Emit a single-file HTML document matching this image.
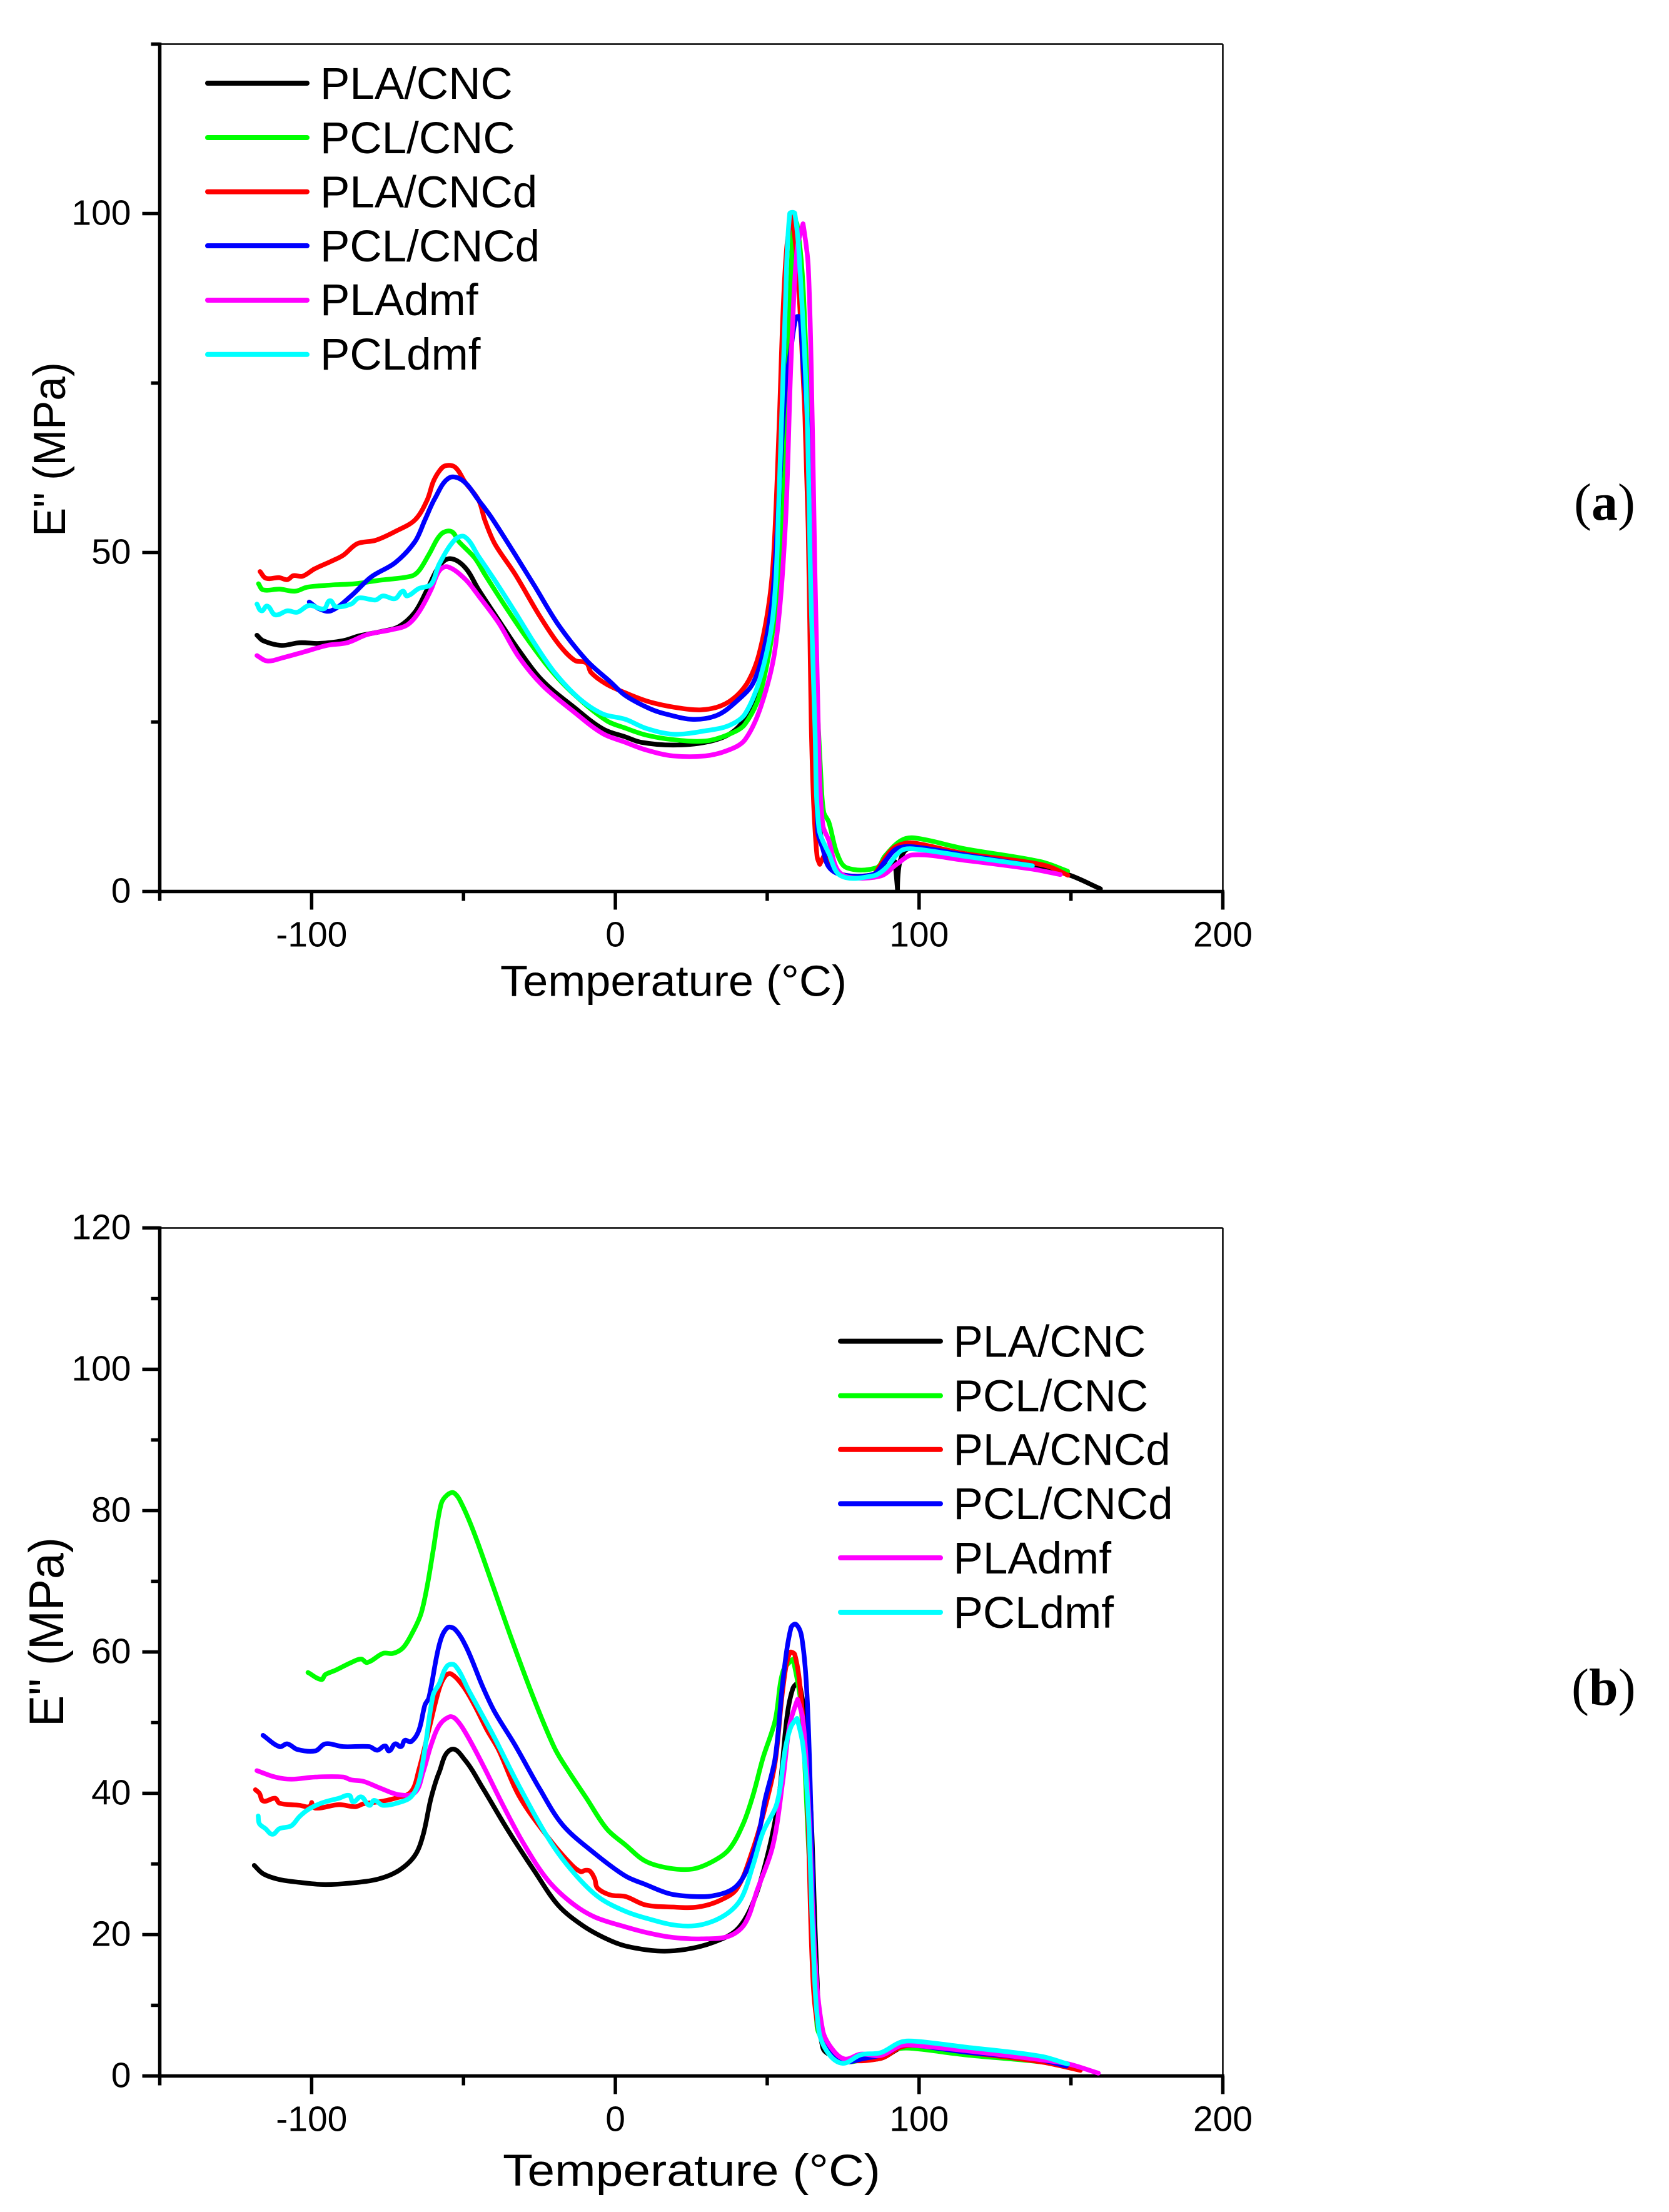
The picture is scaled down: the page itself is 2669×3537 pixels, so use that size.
<!DOCTYPE html>
<html lang="en">
<head>
<meta charset="utf-8">
<title>Loss modulus versus temperature</title>
<style>
html,body{margin:0;padding:0;background:#fff;}
svg{display:block;}
text{font-family:"Liberation Sans",Arial,sans-serif;fill:#000;}
.tag{font-family:"Liberation Serif","Times New Roman",serif;font-size:84px;}
.legend-text{font-size:71px;}
</style>
</head>
<body>
<svg id="figure" xmlns="http://www.w3.org/2000/svg" width="2669" height="3537" viewBox="0 0 2669 3537">
  <rect x="0" y="0" width="2669" height="3537" fill="#fff"/>
  <g id="panel-a"></g>
  <g id="panel-b"></g>

  <text transform="translate(104,858) rotate(-90)" font-size="72" textLength="279" lengthAdjust="spacingAndGlyphs">E" (MPa)</text>
  <text x="800" y="1592.5" font-size="70" textLength="554" lengthAdjust="spacingAndGlyphs">Temperature (°C)</text>
  <text transform="translate(101,2761) rotate(-90)" font-size="78" textLength="303" lengthAdjust="spacingAndGlyphs">E" (MPa)</text>
  <text x="804" y="3495" font-size="71" textLength="604" lengthAdjust="spacingAndGlyphs">Temperature (°C)</text>

  <text class="tag" x="2517" y="831">(<tspan font-weight="bold">a</tspan>)</text>
  <text class="tag" x="2513" y="2726">(<tspan font-weight="bold">b</tspan>)</text>

  <g stroke-width="8" stroke-linecap="round">
    <line x1="332" x2="491" y1="133" y2="133" stroke="#000000"/>
    <line x1="332" x2="491" y1="220" y2="220" stroke="#00ff00"/>
    <line x1="332" x2="491" y1="306.6" y2="306.6" stroke="#ff0000"/>
    <line x1="332" x2="491" y1="393" y2="393" stroke="#0000ff"/>
    <line x1="332" x2="491" y1="480" y2="480" stroke="#ff00ff"/>
    <line x1="332" x2="491" y1="566.8" y2="566.8" stroke="#00ffff"/>
    <text class="legend-text" stroke="none" x="512" y="158">PLA/CNC</text>
    <text class="legend-text" stroke="none" x="512" y="245">PCL/CNC</text>
    <text class="legend-text" stroke="none" x="512" y="331.6">PLA/CNCd</text>
    <text class="legend-text" stroke="none" x="512" y="418">PCL/CNCd</text>
    <text class="legend-text" stroke="none" x="512" y="504">PLAdmf</text>
    <text class="legend-text" stroke="none" x="512" y="591">PCLdmf</text>
  </g>

  <g stroke-width="8" stroke-linecap="round">
    <line x1="1344" x2="1504" y1="2144.6" y2="2144.6" stroke="#000000"/>
    <line x1="1344" x2="1504" y1="2231.7" y2="2231.7" stroke="#00ff00"/>
    <line x1="1344" x2="1504" y1="2317.8" y2="2317.8" stroke="#ff0000"/>
    <line x1="1344" x2="1504" y1="2404.4" y2="2404.4" stroke="#0000ff"/>
    <line x1="1344" x2="1504" y1="2491" y2="2491" stroke="#ff00ff"/>
    <line x1="1344" x2="1504" y1="2578" y2="2578" stroke="#00ffff"/>
    <text class="legend-text" stroke="none" x="1524.5" y="2169.5">PLA/CNC</text>
    <text class="legend-text" stroke="none" x="1524.5" y="2256.5">PCL/CNC</text>
    <text class="legend-text" stroke="none" x="1524.5" y="2342.5">PLA/CNCd</text>
    <text class="legend-text" stroke="none" x="1524.5" y="2429">PCL/CNCd</text>
    <text class="legend-text" stroke="none" x="1524.5" y="2516">PLAdmf</text>
    <text class="legend-text" stroke="none" x="1524.5" y="2603">PCLdmf</text>
  </g>
</svg>

<script>
// Shared x axis tick values (Temperature, deg C)
const xMajorTicks = [-100, 0, 100, 200];
const xMinorTicks = [-150, -50, 50, 150];

// Panel (a) y axis tick values
const aYMajorTicks = [0, 50, 100];
const aYMinorTicks = [25, 75, 125];

// Panel (b) y axis tick values
const bYMajorTicks = [0, 20, 40, 60, 80, 100, 120];
const bYMinorTicks = [10, 30, 50, 70, 90, 110];

// Panel (a) series: [temperature, E'' MPa]
const aPlaCnc = [[-118,37.8],[-116,37],[-110,36.3],[-104,36.7],[-97.5,36.6],[-89.6,37],[-84.4,37.7],[-76.5,38.4],[-71.2,39.1],[-66,41.2],[-62,44.5],[-58,48],[-54.4,49.1],[-49.5,47.8],[-45,44.5],[-38.4,40],[-31.8,35.6],[-24,31.1],[-13.4,27.1],[-4.2,24],[3.3,22.8],[8.6,22],[19,21.6],[29.6,22],[37.5,23.2],[42.7,25.5],[48,30.4],[52,41.1],[54.5,58.7],[56.5,81.6],[58.5,93.9],[59.8,95.4],[61.8,85.5],[63,70],[64.4,47],[65.7,24.3],[67,10.5],[69,5.9],[73,2.9],[76.9,2.3],[84.8,2.5],[88.7,3.7],[92.1,4.4],[92.9,0.2],[93.7,4.4],[96.6,6.3],[115,5.2],[134.7,4],[149,2.5],[159.7,0.4]];
const aPclCnc = [[-117.5,45.4],[-116,44.5],[-110.6,44.6],[-105.4,44.3],[-101.4,44.9],[-93.6,45.2],[-85.7,45.4],[-77.8,45.9],[-67.3,46.5],[-64.7,47.3],[-61.4,49.7],[-57.4,52.7],[-54,53.1],[-51.5,51.6],[-46.3,49.2],[-43,46.8],[-35.7,41.7],[-29.2,37.4],[-21.3,32.7],[-13.4,29],[-2.9,25.2],[3.3,24.1],[9.9,23.1],[19,22.4],[29.6,22.2],[37.5,23.2],[42.7,24.7],[48,29.7],[53.2,43.4],[55.9,62.5],[57.4,85.5],[58.5,99.2],[59.8,98.5],[61.8,89.3],[63.7,66.4],[65.7,35.8],[67.7,16.7],[68.6,11.7],[70.3,10.2],[73,5.6],[76.2,3.5],[86,3.5],[88.7,5.2],[94,7.5],[98.6,7.9],[115,6.3],[140,4.4],[148.9,3]];
const aPlaCncd = [[-117,47.2],[-115,46.2],[-110.7,46.3],[-108,46],[-106,46.6],[-103,46.5],[-99,47.6],[-93.6,48.7],[-89.6,49.6],[-85,51.3],[-79,51.8],[-72.5,53.1],[-66,54.8],[-62,57.7],[-60,60.4],[-58,62],[-56,62.8],[-52.8,62.6],[-49.5,60.4],[-45,57.7],[-43,54.8],[-39.7,51.3],[-33,46.8],[-25,40.7],[-18.7,36.5],[-13.4,34.1],[-9.5,33.7],[-8,32.3],[-3,30.6],[3.3,29.3],[11,28],[20.4,27.1],[28.3,26.8],[34.8,27.4],[40,28.9],[44,31.2],[47.3,35],[50.6,42.6],[52.2,50.3],[53.9,68.6],[55.2,85.5],[56.5,95.4],[58.2,100],[59.8,93],[61.1,83],[62.4,70],[63.5,53.4],[64,39.6],[64.5,24.3],[65.3,12.8],[66.4,5.2],[67.3,4],[68.6,5.2],[70.3,4.3],[73,2.9],[76.9,2.3],[84.8,2.5],[87.4,4],[91.3,6.3],[95.3,7.1],[99,7.1],[115,5.6],[134.7,4.4],[142.6,3.7],[149,2.4]];
const aPclCncd = [[-100.8,42.7],[-97.5,41.7],[-93.6,41.4],[-87,43.6],[-80.4,46.4],[-72.5,48.5],[-66,51.6],[-62.7,54.8],[-59.4,58],[-54.8,61],[-50.2,60.6],[-45,57.7],[-41,55.3],[-33,49.7],[-26.5,45],[-18.7,39.3],[-9.5,34.1],[-1.6,30.9],[3.3,28.9],[11.2,27],[16.4,26.2],[25.6,25.4],[33.5,26],[40,28.1],[45.4,30.8],[49.3,36.5],[51.9,44.2],[53.9,58.7],[55.9,74],[57.8,80],[59.5,84.7],[60.7,84.7],[61.8,77.8],[63.7,66.4],[65,47.2],[66.4,24.3],[66.6,9],[68.3,6.3],[70.3,3.6],[74.3,2.5],[84.8,2.5],[88.7,4.4],[92.6,6.3],[97.9,6.6],[115,5.4],[137.3,3.8]];
const aPlaDmf = [[-118,34.8],[-114.6,34],[-109.3,34.5],[-102.8,35.3],[-94.9,36.3],[-88.3,36.7],[-81.7,37.9],[-73.9,38.6],[-68.6,39.3],[-64.7,41.2],[-60.7,44.5],[-58,47.3],[-55.2,47.9],[-49.5,46.1],[-45,43.6],[-38.4,39.6],[-31.8,34.6],[-24,30.4],[-13.4,26.4],[-4.2,23.3],[3.3,22],[9.9,20.9],[19,20],[29.6,20],[37.5,20.9],[42.7,22.4],[48,27.4],[52.6,35.8],[55.9,53.4],[57.8,77.8],[59.8,94.6],[61.8,98.5],[63.5,92.3],[64.8,70.2],[65.7,47.2],[67,20.5],[68.3,9.8],[70.3,7.5],[73,3.3],[76.9,2.1],[87.4,2.3],[92.6,4],[97.9,5.4],[115,4.6],[137.3,3.3],[146.5,2.5]];
const aPclDmf = [[-118,42.4],[-116.5,41.4],[-114.6,42.1],[-112,40.8],[-108,41.4],[-104.7,41.2],[-100.8,42.2],[-96,41.7],[-94,42.9],[-92,42],[-87,42.4],[-84.4,43.3],[-79,43],[-76.5,43.6],[-72.5,43.2],[-70,44.3],[-68.6,43.6],[-64.7,44.7],[-60.7,45.3],[-58,48.3],[-52.8,51.9],[-49.5,52.3],[-45,49.4],[-39.7,45.9],[-33,41.2],[-26.5,36.5],[-20,32.3],[-12,28.5],[-4.2,26.2],[3.3,25.4],[9.9,24.1],[19,23.2],[29.6,23.7],[37.5,24.5],[42.7,26.2],[48,32],[52,41.1],[53.9,58.7],[55.9,85.5],[57.4,100],[59.1,100],[61.1,89.3],[63.1,70.2],[64.4,43.4],[65.7,24.3],[67,9.4],[70.3,5.6],[74.3,2.3],[84.8,2.3],[88.7,3.3],[94,6],[97.9,6.3],[115,5.2],[137.3,3.8]];

// Panel (b) series: [temperature, E'' MPa]
const bPlaCnc = [[-118.9,29.8],[-115.9,28.6],[-110.6,27.8],[-104,27.4],[-96.2,27.1],[-87,27.3],[-77.8,27.9],[-71.2,29.1],[-66,31.2],[-63.3,34.1],[-60.7,39.3],[-58,43],[-54.1,46.2],[-49.5,44.7],[-43.6,40.7],[-35.7,35],[-26.5,28.9],[-18.7,24.1],[-10.8,21.3],[-2.9,19.4],[3.3,18.4],[13.8,17.7],[23,17.9],[32.2,18.9],[40,20.7],[45.3,24.5],[50.6,32.1],[53.9,39.7],[56.5,50.8],[58.5,54.9],[60.5,55.8],[62.4,50.8],[64.4,37.4],[66.4,14],[68.3,4],[73,2.6],[78.2,2.3],[87.4,2.5],[94,4],[99.2,4.3],[115,3.3],[140,2.1],[149.2,1.3]];
const bPclCnc = [[-101.2,57.1],[-96.8,56.1],[-95.5,56.8],[-92.2,57.4],[-87,58.5],[-83.7,59],[-81.7,58.5],[-76.5,59.8],[-73.2,59.8],[-69.9,60.6],[-66.6,62.9],[-64,65.4],[-62,69.2],[-60,74.3],[-57.4,80.9],[-55.4,82.2],[-53.1,82.5],[-50.2,80.6],[-46.3,76.6],[-41,70.2],[-34.4,62.1],[-26.5,53],[-20,46.4],[-16,43.5],[-9.5,39.3],[-2.9,35],[3.3,32.7],[9.9,30.4],[17.8,29.4],[25.6,29.3],[32.2,30.4],[37.5,32.1],[42,35.6],[45.3,39.7],[48.6,45],[52.6,50.3],[55.2,57.3],[58.5,59],[61.1,52.6],[63.7,31.5],[66.4,7],[69,4.6],[73,2.6],[76.9,2],[82.1,2.4],[88.7,2.8],[92.6,3.8],[97.9,3.9],[115,3],[140,2],[147.8,1.4]];
const bPlaCncd = [[-118.5,40.5],[-117.2,40],[-115.9,38.9],[-112,39.3],[-110.6,38.6],[-104,38.3],[-100.8,38.1],[-100,38.7],[-98.8,37.9],[-91,38.4],[-85.6,38.1],[-83,38.5],[-77.8,38.8],[-72.5,39.3],[-67.3,40.2],[-64.7,43.3],[-61.4,49],[-58,54.8],[-56,56.6],[-54.1,56.9],[-50.2,55.2],[-46.3,52.4],[-42.3,49],[-38.4,46.1],[-31.8,39.7],[-22.6,34],[-14.7,30],[-11.4,28.9],[-10,29.1],[-8.4,29],[-6.8,27.9],[-5.9,26.6],[-1.6,25.6],[3.3,25.4],[9.9,24.2],[19,23.9],[27,23.9],[34.2,24.8],[40,26.5],[45.3,32.1],[49.3,38],[52.6,44.4],[55.2,55],[57.4,59.9],[59.1,59.6],[61.1,53.8],[63.1,40.3],[65,14],[67,6.4],[70.3,3.7],[74.9,2.3],[87.4,2.5],[94,4.1],[99.2,4.3],[115,3.4],[140,2],[153.1,0.8]];
const bPclCncd = [[-116,48.2],[-110.6,46.6],[-108,47],[-104.7,46.2],[-98.8,46],[-95.5,47],[-89.6,46.6],[-81,46.6],[-78.4,46.1],[-75.8,46.7],[-74.5,46],[-72.5,47],[-70.6,46.6],[-69.3,47.5],[-67.3,47.3],[-64.7,48.9],[-62.7,52.5],[-61.4,53.5],[-58,61],[-55.4,63.4],[-52.8,63.2],[-49,60.6],[-43.6,55],[-39.7,51.5],[-33,46.8],[-25,40.7],[-17.3,35.5],[-6.8,31.5],[3.3,28.3],[9.9,27.1],[17.8,25.8],[25.6,25.4],[32.2,25.5],[38.8,26.5],[42.7,28.6],[46.7,33.3],[49.3,39.1],[52.6,45],[55.2,56.1],[57.8,63.4],[59.5,63.9],[61.4,62],[63.1,53.8],[64.4,37.4],[65.7,16.9],[67.7,5.8],[70.3,3.4],[74.9,2],[82.1,2.5],[88.7,3.1],[94,4.3],[99.2,4.3],[115,3.4],[138.6,2.4],[148.5,1.4]];
const bPlaDmf = [[-118,43.2],[-112,42.3],[-106.7,42],[-98.8,42.3],[-89.6,42.3],[-87,41.9],[-83,41.7],[-77.8,40.8],[-71.2,39.8],[-66,40.1],[-63.3,43],[-60.7,46.8],[-58,49.6],[-54.8,50.8],[-52.8,50.6],[-49.5,48.7],[-43.6,44],[-37,38.3],[-30.5,33.1],[-22.6,27.9],[-14.7,24.6],[-6.8,22.5],[3.3,21.1],[11.2,20.2],[19,19.6],[28.3,19.4],[37.5,19.8],[42.7,21.6],[46.7,26.3],[51.9,32.7],[55.2,42],[57.4,49.7],[60,53.3],[61.8,50.3],[63.7,37.4],[65.7,16.9],[68.3,6.4],[71.6,3.7],[75.6,2.4],[80.8,3.1],[87.4,2.9],[94,4.3],[99.2,4.3],[115,3.6],[140,2.3],[149.2,1.7],[159,0.4]];
const bPclDmf = [[-117.6,36.8],[-117.2,35.7],[-115.2,35],[-112.9,34.2],[-110.6,35],[-106.7,35.4],[-104,36.7],[-100.8,37.8],[-96.2,38.7],[-91,39.3],[-87.6,39.7],[-86.3,38.8],[-83.7,39.5],[-81,38.3],[-79.4,39],[-76.5,38.3],[-71.2,38.7],[-67.3,39.5],[-64.7,41.6],[-62.7,46.3],[-60,53.9],[-58,55.5],[-55.4,58],[-52.8,58.1],[-48.2,54.5],[-43.6,50.9],[-39.7,47.8],[-31.8,41.1],[-21.3,33.1],[-13.4,28.6],[-5.5,25.3],[3.3,23.3],[11.2,22.2],[20.4,21.3],[28.3,21.4],[36.2,22.8],[41.4,25.1],[45.3,29.8],[48.6,34.5],[53.2,38.6],[55.9,46.2],[57.8,49.4],[59.8,50.6],[61.8,46.7],[63.5,37.4],[65,19.8],[67,6.4],[70.3,3.1],[74.9,1.8],[80.8,3],[87.4,3.3],[94,4.8],[99.2,4.9],[115,4.1],[140,2.8],[148.9,1.7]];

const SVG_NS = 'http://www.w3.org/2000/svg';

function makeLine(parent, x1, y1, x2, y2, width, cap) {
  const el = document.createElementNS(SVG_NS, 'line');
  el.setAttribute('x1', x1);
  el.setAttribute('y1', y1);
  el.setAttribute('x2', x2);
  el.setAttribute('y2', y2);
  el.setAttribute('stroke', '#000');
  el.setAttribute('stroke-width', width);
  el.setAttribute('stroke-linecap', cap || 'butt');
  parent.appendChild(el);
  return el;
}

// Smooth path through pixel points. Hairpin turns (spikes) stay as sharp corners.
function smoothPath(pts) {
  const tangent = function (i) {
    const a = pts[Math.max(i - 1, 0)];
    const m = pts[i];
    const b = pts[Math.min(i + 1, pts.length - 1)];
    const inX = m[0] - a[0];
    const inY = m[1] - a[1];
    const outX = b[0] - m[0];
    const outY = b[1] - m[1];
    const inLen = Math.hypot(inX, inY) || 1;
    const outLen = Math.hypot(outX, outY) || 1;
    if ((inX * outX + inY * outY) / (inLen * outLen) < -0.3) {
      return [0, 0];
    }
    const dx = b[0] - a[0];
    const dy = b[1] - a[1];
    const len = Math.hypot(dx, dy) || 1;
    return [dx / len, dy / len];
  };
  let d = 'M' + pts[0][0].toFixed(1) + ' ' + pts[0][1].toFixed(1);
  for (let i = 0; i < pts.length - 1; i++) {
    const p = pts[i];
    const q = pts[i + 1];
    const seg = Math.hypot(q[0] - p[0], q[1] - p[1]) / 3;
    const tp = tangent(i);
    const tq = tangent(i + 1);
    d += ' C' + (p[0] + tp[0] * seg).toFixed(1) + ' ' + (p[1] + tp[1] * seg).toFixed(1) + ' ' +
      (q[0] - tq[0] * seg).toFixed(1) + ' ' + (q[1] - tq[1] * seg).toFixed(1) + ' ' +
      q[0].toFixed(1) + ' ' + q[1].toFixed(1);
  }
  return d;
}

function drawPanel(groupId, layout, yMajor, yMinor, series) {
  const group = document.getElementById(groupId);
  const scaleX = function (t) { return layout.x0 + (t - (-150)) * (layout.x1 - layout.x0) / 350; };
  const scaleY = function (v) { return layout.y0 - (v - 0) * (layout.y0 - layout.y1) / layout.yMax; };

  // frame
  const topLine = makeLine(group, layout.x0, layout.y1, layout.x1, layout.y1, 2.5);
  
  
  const rightLine = makeLine(group, layout.x1, layout.y1, layout.x1, layout.y0, 2.5);
  
  
  const leftLine = makeLine(group, layout.x0, layout.y1 - 2.5, layout.x0, layout.y0 + 2.5, 5.5);
  
  
  const bottomLine = makeLine(group, layout.x0 - 2.5, layout.y0, layout.x1 + 2.5, layout.y0, 5.5);
  
  

  // x ticks
  xMajorTicks.forEach(function (t) {
    const tick = makeLine(group, scaleX(t), layout.y0, scaleX(t), layout.y0 + 29, 5.5);
    
    
    const label = document.createElementNS(SVG_NS, 'text');
    
    
    label.setAttribute('x', scaleX(t));
    label.setAttribute('y', layout.y0 + 88);
    label.setAttribute('font-size', '57');
    label.setAttribute('text-anchor', 'middle');
    label.textContent = String(t);
    group.appendChild(label);
  });
  xMinorTicks.forEach(function (t) {
    const tick = makeLine(group, scaleX(t), layout.y0, scaleX(t), layout.y0 + 15, 5.5);
    
    
  });

  // y ticks
  yMajor.forEach(function (v) {
    const tick = makeLine(group, layout.x0, scaleY(v), layout.x0 - 28, scaleY(v), 5.5);
    
    
    const label = document.createElementNS(SVG_NS, 'text');
    
    
    label.setAttribute('x', layout.x0 - 46);
    label.setAttribute('y', scaleY(v) + 18);
    label.setAttribute('font-size', '57');
    label.setAttribute('text-anchor', 'end');
    label.textContent = String(v);
    group.appendChild(label);
  });
  yMinor.forEach(function (v) {
    const tick = makeLine(group, layout.x0, scaleY(v), layout.x0 - 14, scaleY(v), 5.5);
    
    
  });

  // curves
  series.forEach(function (s) {
    const pixelPoints = s.points.map(function (p) { return [scaleX(p[0]), scaleY(p[1])]; });
    const path = document.createElementNS(SVG_NS, 'path');
    
    
    path.setAttribute('d', smoothPath(pixelPoints));
    path.setAttribute('fill', 'none');
    path.setAttribute('stroke', s.color);
    path.setAttribute('stroke-width', '7.5');
    path.setAttribute('stroke-linejoin', 'round');
    path.setAttribute('stroke-linecap', 'round');
    group.appendChild(path);
  });
}

drawPanel('panel-a', { x0: 255.5, x1: 1955.5, y0: 1425.5, y1: 70.5, yMax: 125 }, aYMajorTicks, aYMinorTicks, [
  { name: 'series-pla-cnc', color: '#000000', points: aPlaCnc },
  { name: 'series-pcl-cnc', color: '#00ff00', points: aPclCnc },
  { name: 'series-pla-cncd', color: '#ff0000', points: aPlaCncd },
  { name: 'series-pcl-cncd', color: '#0000ff', points: aPclCncd },
  { name: 'series-pla-dmf', color: '#ff00ff', points: aPlaDmf },
  { name: 'series-pcl-dmf', color: '#00ffff', points: aPclDmf }
]);

drawPanel('panel-b', { x0: 255.5, x1: 1955.5, y0: 3319.5, y1: 1963.5, yMax: 120 }, bYMajorTicks, bYMinorTicks, [
  { name: 'series-pla-cnc', color: '#000000', points: bPlaCnc },
  { name: 'series-pcl-cnc', color: '#00ff00', points: bPclCnc },
  { name: 'series-pla-cncd', color: '#ff0000', points: bPlaCncd },
  { name: 'series-pcl-cncd', color: '#0000ff', points: bPclCncd },
  { name: 'series-pla-dmf', color: '#ff00ff', points: bPlaDmf },
  { name: 'series-pcl-dmf', color: '#00ffff', points: bPclDmf }
]);
</script>
</body>
</html>
